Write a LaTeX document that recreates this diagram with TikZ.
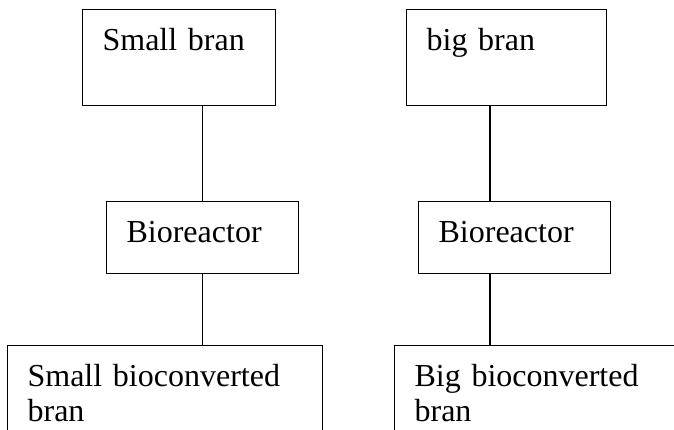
\documentclass[tikz,border=0pt]{standalone}
\usepackage{fontspec}
\setmainfont{Liberation Serif}

\tikzset{
	box/.style={draw, line width=1.2pt, anchor=north west, align=left,
		inner xsep=20pt, inner ysep=19pt, text height=22pt,
		font=\fontsize{32}{35}\selectfont},
	link/.style={line width=1.2pt}
}

\begin{document}
\begin{tikzpicture}[x=1pt,y=-1pt]

	\clip (0,0) rectangle (674,429);

	\node[box, text width=153pt, text depth=36pt] (smallbran) at (82,9) {Small bran};
	\node[box, text width=160pt, text depth=36pt] (bigbran) at (406,9) {big bran};

	\node[box, text width=152pt, text depth=12pt] (smallreactor) at (106,201) {Bioreactor};
	\node[box, text width=152pt, text depth=12pt] (bigreactor) at (418,201) {Bioreactor};

	\node[box, text width=275pt, text depth=100pt] (smallproduct) at (7,345) {Small bioconverted\\bran};
	\node[box, text width=260pt, text depth=100pt] (bigproduct) at (394,345) {Big bioconverted\\bran};


	\draw[link] (smallreactor.north |- smallbran.south) -- (smallreactor.north);
	\draw[link] (smallreactor.south) -- (smallreactor.south |- smallproduct.north);

	\draw[link] ([xshift=84pt]bigbran.south west) -- ([xshift=72pt]bigreactor.north west);
	\draw[link] ([xshift=72pt]bigreactor.south west) -- ([xshift=96pt]bigproduct.north west);

	\end{tikzpicture}
\end{document}
